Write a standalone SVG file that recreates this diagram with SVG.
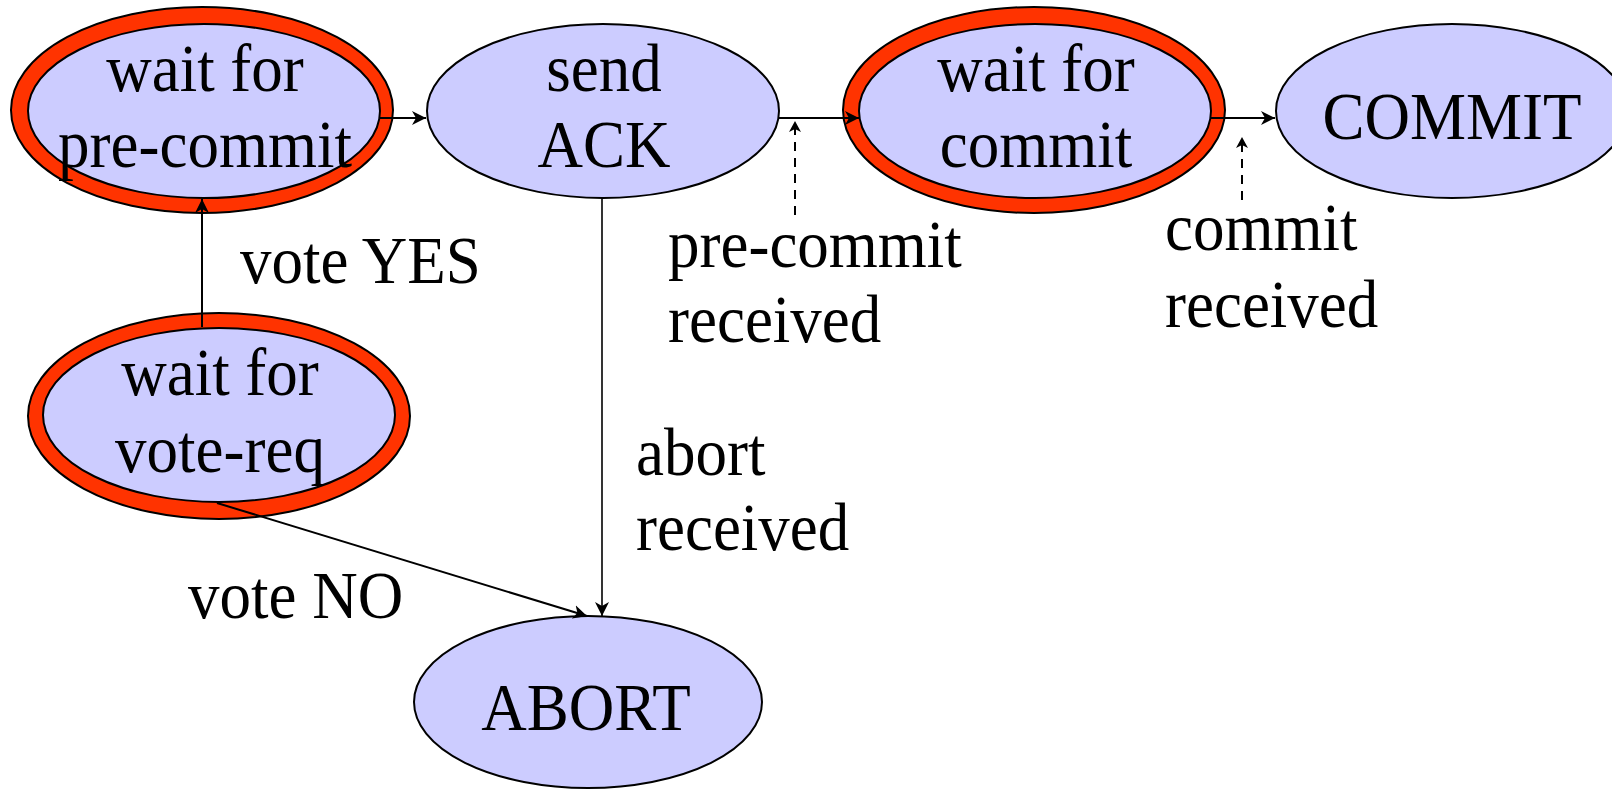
<svg xmlns="http://www.w3.org/2000/svg" width="1612" height="789" viewBox="0 0 1612 789">
<style>
.ring{fill:#FF3300;stroke:#000;stroke-width:2}
.st{fill:#CCCCFF;stroke:#000;stroke-width:2}
.t{font-family:"Liberation Serif","Times New Roman",serif;font-size:63px;fill:#000}
.m{text-anchor:middle}
.c{fill:none;stroke:#000;stroke-width:2}
.thin{stroke-width:1.6}
.d{stroke-dasharray:9,7}
</style>
<defs>
<marker id="ah" markerUnits="userSpaceOnUse" markerWidth="16" markerHeight="14" refX="14" refY="7" orient="auto">
<path d="M0,0 L14,7 L0,14 L4,7 Z" fill="#000"/>
</marker>
<marker id="ahs" markerUnits="userSpaceOnUse" markerWidth="12" markerHeight="12" refX="11" refY="6" orient="auto">
<path d="M0,0 L11,6 L0,12 L3,6 Z" fill="#000"/>
</marker>
</defs>
<g id="wait-pre-commit">
<ellipse class="ring" cx="202" cy="110" rx="191" ry="103"/>
<ellipse class="st" cx="204" cy="111" rx="176" ry="87"/>
<text class="t m" transform="translate(205,91) scale(1,1.09)">wait for</text>
<text class="t m" transform="translate(205,167) scale(1,1.09)">pre-commit</text>
</g>
<g id="send-ack">
<ellipse class="st" cx="603" cy="111" rx="176" ry="87"/>
<text class="t m" transform="translate(604,91) scale(1,1.09)">send</text>
<text class="t m" transform="translate(604,167) scale(1,1.09)">ACK</text>
</g>
<g id="wait-commit">
<ellipse class="ring" cx="1034" cy="110" rx="191" ry="103"/>
<ellipse class="st" cx="1035" cy="111" rx="176" ry="87"/>
<text class="t m" transform="translate(1036,91) scale(1,1.09)">wait for</text>
<text class="t m" transform="translate(1036,167) scale(1,1.09)">commit</text>
</g>
<g id="commit">
<ellipse class="st" cx="1452" cy="111" rx="176" ry="87"/>
<text class="t m" transform="translate(1452,139) scale(1,1.09)">COMMIT</text>
</g>
<g id="wait-vote-req">
<ellipse class="ring" cx="219" cy="416" rx="191" ry="103"/>
<ellipse class="st" cx="219" cy="415" rx="176" ry="87"/>
<text class="t m" transform="translate(220,395) scale(1,1.09)">wait for</text>
<text class="t m" transform="translate(220,472) scale(1,1.09)">vote-req</text>
</g>
<g id="abort">
<ellipse class="st" cx="588" cy="702" rx="174" ry="86"/>
<text class="t m" transform="translate(586,730) scale(1,1.09)">ABORT</text>
</g>
<g id="connectors">
<line class="c" x1="380" y1="118" x2="426" y2="118" marker-end="url(#ah)"/>
<line class="c" x1="778" y1="118" x2="859" y2="118" marker-end="url(#ah)"/>
<line class="c" x1="1210" y1="118" x2="1275" y2="118" marker-end="url(#ah)"/>
<line class="c d" x1="795" y1="215" x2="795" y2="121" marker-end="url(#ahs)"/>
<line class="c d" x1="1242" y1="200" x2="1242" y2="137" marker-end="url(#ahs)"/>
<line class="c" x1="202" y1="327" x2="202" y2="199" marker-end="url(#ah)"/>
<line class="c" x1="217" y1="503" x2="587" y2="616" marker-end="url(#ah)"/>
<line class="c thin" x1="602" y1="198" x2="602" y2="616" marker-end="url(#ah)"/>
</g>
<g id="labels">
<text class="t" transform="translate(240,283) scale(1,1.09)">vote YES</text>
<text class="t" transform="translate(668,267) scale(1,1.09)">pre-commit</text>
<text class="t" transform="translate(668,342) scale(1,1.09)">received</text>
<text class="t" transform="translate(1165,250) scale(1,1.09)">commit</text>
<text class="t" transform="translate(1165,327) scale(1,1.09)">received</text>
<text class="t" transform="translate(636,475) scale(1,1.09)">abort</text>
<text class="t" transform="translate(636,550) scale(1,1.09)">received</text>
<text class="t" transform="translate(188,618) scale(1,1.09)">vote NO</text>
</g>
</svg>
